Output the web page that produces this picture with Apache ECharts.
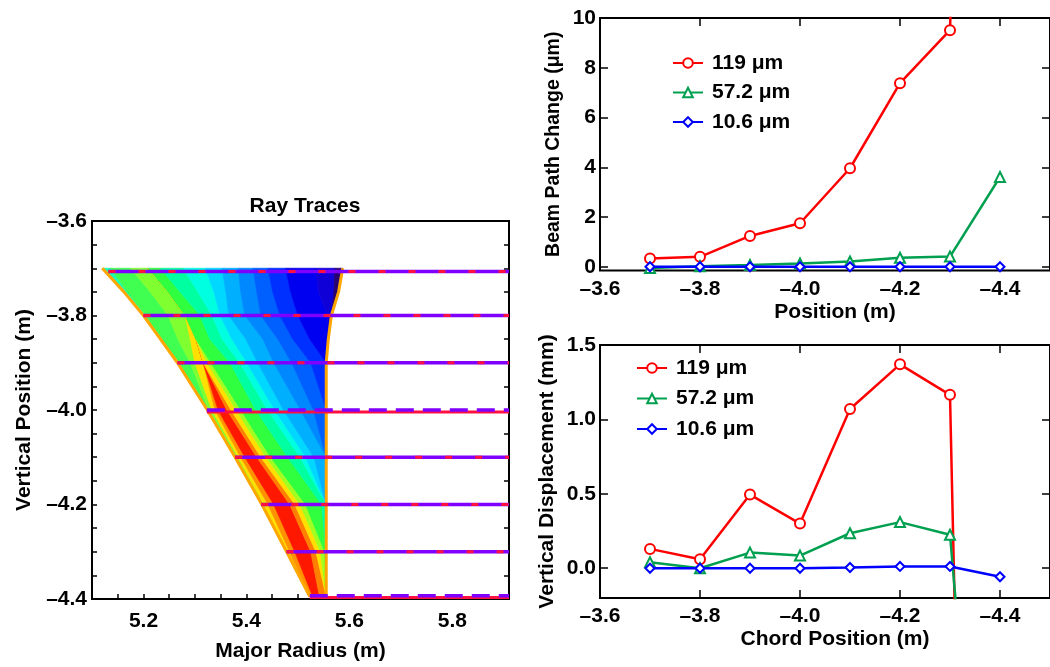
<!DOCTYPE html>
<html>
<head>
<meta charset="utf-8">
<script src="https://cdn.jsdelivr.net/npm/echarts@6/dist/echarts.min.js"></script>
<style>
  html, body { margin: 0; padding: 0; background: #fff; }
  #chart { width: 1050px; height: 667px; }
</style>
</head>
<body>
<div id="chart"></div>
<script>
// ---- ray trace panel: wedge outline (major radius R at each vertical row Z)
const bandRowsZ = [-3.70, -3.75, -3.80, -3.85, -3.90, -4.00, -4.10, -4.20, -4.30, -4.395];
const leftEdgeR = [5.120, 5.162, 5.200, 5.233, 5.266, 5.324, 5.378, 5.430, 5.478, 5.523];
const rightEdgeR = [5.587, 5.579, 5.565, 5.559, 5.555, 5.555, 5.555, 5.555, 5.555, 5.555];

// colour bands, left to right, and where each band ends on every row
const bandColors = [
  '#20ffb0', '#40ff50', '#80ff30', '#ffe000', '#ff9000', '#ff1800', '#ff8000',
  '#ffe000', '#a0ff20', '#30ff40', '#00ffa0', '#00ffe0', '#00d8ff', '#00b0ff',
  '#0088ff', '#0060ff', '#0030ff', '#0000f0', '#1000d8', '#280070'
];
const bandBounds = [
  [5.136, 5.175, 5.209, 5.209, 5.209, 5.209, 5.209, 5.209, 5.209, 5.233, 5.277, 5.320, 5.353, 5.384, 5.413, 5.442, 5.476, 5.535, 5.572, 5.587],
  [5.169, 5.213, 5.248, 5.248, 5.248, 5.248, 5.248, 5.248, 5.248, 5.271, 5.306, 5.337, 5.360, 5.389, 5.420, 5.451, 5.486, 5.540, 5.570, 5.579],
  [5.205, 5.248, 5.281, 5.281, 5.281, 5.281, 5.281, 5.281, 5.281, 5.310, 5.333, 5.349, 5.366, 5.397, 5.428, 5.465, 5.500, 5.558, 5.565, 5.565],
  [5.235, 5.267, 5.291, 5.302, 5.302, 5.302, 5.302, 5.302, 5.302, 5.329, 5.353, 5.372, 5.399, 5.432, 5.461, 5.490, 5.523, 5.559, 5.559, 5.559],
  [5.266, 5.291, 5.300, 5.316, 5.316, 5.316, 5.316, 5.324, 5.331, 5.368, 5.387, 5.401, 5.422, 5.453, 5.488, 5.525, 5.555, 5.555, 5.555, 5.555],
  [5.324, 5.327, 5.333, 5.339, 5.345, 5.362, 5.370, 5.380, 5.389, 5.418, 5.441, 5.455, 5.472, 5.505, 5.530, 5.555, 5.555, 5.555, 5.555, 5.555],
  [5.378, 5.380, 5.384, 5.389, 5.397, 5.420, 5.428, 5.438, 5.447, 5.480, 5.504, 5.515, 5.531, 5.555, 5.555, 5.555, 5.555, 5.555, 5.555, 5.555],
  [5.430, 5.430, 5.434, 5.442, 5.453, 5.484, 5.494, 5.504, 5.515, 5.546, 5.555, 5.555, 5.555, 5.555, 5.555, 5.555, 5.555, 5.555, 5.555, 5.555],
  [5.478, 5.478, 5.478, 5.484, 5.494, 5.525, 5.535, 5.544, 5.552, 5.555, 5.555, 5.555, 5.555, 5.555, 5.555, 5.555, 5.555, 5.555, 5.555, 5.555],
  [5.523, 5.523, 5.523, 5.523, 5.529, 5.542, 5.555, 5.555, 5.555, 5.555, 5.555, 5.555, 5.555, 5.555, 5.555, 5.555, 5.555, 5.555, 5.555, 5.555]
];

// rays (chords)
const rayZ = [-3.707, -3.80, -3.90, -4.00, -4.10, -4.20, -4.30, -4.393];
const rayStartR = [5.132, 5.200, 5.266, 5.323, 5.378, 5.429, 5.478, 5.523];
const rayEndR = 5.91;

// ---- right panels
const chordPos = [-3.7, -3.8, -3.9, -4.0, -4.1, -4.2, -4.3, -4.4];
const waveNames = ['119 μm', '57.2 μm', '10.6 μm'];
const beam119 = [0.33, 0.40, 1.24, 1.75, 3.96, 7.38, 9.51, 80];
const beam57 = [-0.05, 0.02, 0.07, 0.13, 0.21, 0.36, 0.41, 3.61];
const beam10 = [0, 0, 0, 0, 0, 0, 0, 0];
const disp119 = [0.13, 0.06, 0.495, 0.30, 1.07, 1.37, 1.165, -14.0];
const disp57 = [0.04, 0.0, 0.105, 0.085, 0.235, 0.31, 0.225, -3.7];
const disp10 = [0.0, 0.0, 0.0, 0.0, 0.005, 0.012, 0.012, -0.057];

const xTicks = [-3.6, -3.8, -4.0, -4.2, -4.4];
const beamTicks = [0, 2, 4, 6, 8, 10];
const dispTicks = [0, 0.5, 1.0, 1.5];

const FONT = 'Liberation Sans';
const txt = { fontFamily: FONT, fontWeight: 'bold', fontSize: 21, color: '#000' };
const signed = v => (v < 0 ? '–' : '') + Math.abs(v).toFixed(1);
const every02 = v => Math.round(v * 100) % 20 === 0;
const tickStyle = (len) => ({ show: true, inside: true, length: len, lineStyle: { color: '#000', width: 1.5 } });

const chart = echarts.init(document.getElementById('chart'));

function plainAxis(extra) {
  return Object.assign({
    type: 'value',
    axisLine: { show: false, onZero: false },
    splitLine: { show: false },
    axisLabel: { show: false }
  }, extra);
}

const xAxis = [
  plainAxis({
    gridIndex: 0, min: 5.1, max: 5.91, interval: 0.05,
    axisTick: tickStyle(5),
    axisLabel: Object.assign({}, txt, { show: true, margin: 12, formatter: v => every02(v) ? v.toFixed(1) : '' }),
    name: 'Major Radius (m)', nameLocation: 'middle', nameGap: 42, nameTextStyle: txt
  })
];
const yAxis = [
  plainAxis({
    gridIndex: 0, min: -4.4, max: -3.6, interval: 0.05,
    axisTick: tickStyle(5),
    axisLabel: Object.assign({}, txt, { show: true, margin: 5, formatter: v => every02(v) ? signed(v) : '' }),
    name: 'Vertical Position (m)', nameLocation: 'middle', nameGap: 57, nameTextStyle: txt
  }),
  plainAxis({ gridIndex: 0, position: 'right', min: -4.4, max: -3.6, interval: 0.05, axisTick: tickStyle(5) })
];

function rightPanel(g, yMin, yMax, yTicks, yFmt, xName, yName, yGap, yNameSize) {
  xAxis.push(plainAxis({
    gridIndex: g, min: -4.5, max: -3.6, inverse: true,
    axisTick: Object.assign(tickStyle(8), { customValues: xTicks }),
    axisLabel: Object.assign({}, txt, { show: true, margin: 8, customValues: xTicks, formatter: signed }),
    name: xName, nameLocation: 'middle', nameGap: 31,
    nameTextStyle: Object.assign({}, txt, { padding: [0, 0, 0, 20] })
  }));
  xAxis.push(plainAxis({
    gridIndex: g, position: 'top', min: -4.5, max: -3.6, inverse: true,
    axisTick: Object.assign(tickStyle(8), { customValues: xTicks })
  }));
  yAxis.push(plainAxis({
    gridIndex: g, min: yMin, max: yMax,
    axisTick: Object.assign(tickStyle(8), { customValues: yTicks }),
    axisLabel: Object.assign({}, txt, { show: true, margin: 4, customValues: yTicks, formatter: yFmt }),
    name: yName, nameLocation: 'middle', nameGap: yGap,
    nameTextStyle: Object.assign({}, txt, { fontSize: yNameSize })
  }));
  yAxis.push(plainAxis({
    gridIndex: g, position: 'right', min: yMin, max: yMax,
    axisTick: Object.assign(tickStyle(8), { customValues: yTicks })
  }));
}
rightPanel(1, -0.15, 10, beamTicks, v => String(v), 'Position (m)', 'Beam Path Change (μm)', 36, 19.5);
rightPanel(2, -0.2, 1.5, dispTicks, v => v.toFixed(1), 'Chord Position (m)', 'Vertical Displacement (mm)', 42, 21);

const series = [];

// contour bands of the ray-trace wedge
series.push({
  type: 'custom',
  xAxisIndex: 0, yAxisIndex: 0,
  silent: true, z: 1,
  encode: { x: 0, y: 1 },
  data: bandColors.map((c, k) => [5.3, -4.0, k]),
  renderItem: (params, api) => {
    const k = api.value(2);
    const pts = [];
    for (let i = 0; i < bandRowsZ.length; i++) {
      pts.push(api.coord([k === 0 ? leftEdgeR[i] : bandBounds[i][k - 1], bandRowsZ[i]]));
    }
    for (let i = bandRowsZ.length - 1; i >= 0; i--) {
      pts.push(api.coord([bandBounds[i][k], bandRowsZ[i]]));
    }
    return {
      type: 'polygon',
      shape: { points: pts },
      style: { fill: bandColors[k], stroke: bandColors[k], lineWidth: 0.8 }
    };
  }
});

// orange outline of the wedge
[leftEdgeR, rightEdgeR].forEach(edge => {
  series.push({
    type: 'line', xAxisIndex: 0, yAxisIndex: 0, silent: true, z: 2,
    symbol: 'none',
    data: edge.map((r, i) => [r, bandRowsZ[i]]),
    lineStyle: { color: '#ffa600', width: 3 }
  });
});

// rays: purple and red overlapping traces
const PURPLE = '#7f00ff', RED = '#ff1040';
rayZ.forEach((z, i) => {
  const longDash = i === 3 || i === rayZ.length - 1;
  const seg = (zz) => [[rayStartR[i], zz], [rayEndR, zz]];
  if (longDash) {
    series.push({ type: 'line', xAxisIndex: 0, yAxisIndex: 0, silent: true, z: 3, symbol: 'none',
      data: seg(z - 0.004), lineStyle: { color: RED, width: 3 } });
    series.push({ type: 'line', xAxisIndex: 0, yAxisIndex: 0, silent: true, z: 4, symbol: 'none',
      data: seg(z), lineStyle: { color: PURPLE, width: 3.5, type: [18, 9] } });
  } else {
    series.push({ type: 'line', xAxisIndex: 0, yAxisIndex: 0, silent: true, z: 3, symbol: 'none',
      data: seg(z), lineStyle: { color: PURPLE, width: 3.5 } });
    series.push({ type: 'line', xAxisIndex: 0, yAxisIndex: 0, silent: true, z: 4, symbol: 'none',
      data: seg(z), lineStyle: { color: RED, width: 3, type: [7, 23] } });
  }
});

// right panel curves
const styles = [
  { color: '#ff0000', symbol: 'emptyCircle', size: 10 },
  { color: '#00a050', symbol: 'emptyTriangle', size: 10 },
  { color: '#0000ff', symbol: 'emptyDiamond', size: 9 }
];
function curves(sets, xi, yi) {
  sets.forEach((vals, s) => {
    const st = styles[s];
    series.push({
      type: 'line', name: waveNames[s], xAxisIndex: xi, yAxisIndex: yi,
      clip: true, z: 5 + s,
      symbol: st.symbol, symbolSize: st.size, showAllSymbol: true,
      data: chordPos.map((x, i) => [x, vals[i]]),
      lineStyle: { color: st.color, width: 2.5 },
      itemStyle: { color: st.color, borderWidth: 1.2 }
    });
  });
}
curves([beam119, beam57, beam10], 1, 2);
curves([disp119, disp57, disp10], 3, 4);

const legendBase = {
  data: waveNames, orient: 'vertical', padding: 0,
  itemWidth: 30, itemHeight: 12, selectedMode: false,
  textStyle: Object.assign({}, txt, { lineHeight: 22, padding: [0, 0, 0, 4] })
};

chart.setOption({
  animation: false,
  textStyle: { fontFamily: FONT },
  title: {
    text: 'Ray Traces', left: 300, top: 191, textAlign: 'center',
    textStyle: txt
  },
  grid: [
    { left: 92, top: 221, width: 417, height: 378, show: true, borderColor: '#000', borderWidth: 2 },
    { left: 600, top: 18, right: 0, height: 252.5, show: true, borderColor: '#000', borderWidth: 2 },
    { left: 600, top: 345, right: 0, height: 253, show: true, borderColor: '#000', borderWidth: 2 }
  ],
  legend: [
    Object.assign({}, legendBase, { left: 672, top: 52, itemGap: 7.5 }),
    Object.assign({}, legendBase, { left: 636, top: 357, itemGap: 8.5 })
  ],
  xAxis,
  yAxis,
  series
});
</script>
</body>
</html>
